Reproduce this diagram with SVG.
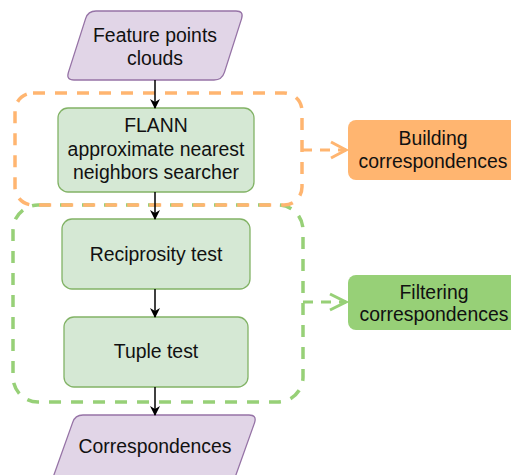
<svg xmlns="http://www.w3.org/2000/svg" width="511" height="475" viewBox="0 0 511 475">
<style>
text{font-family:"Liberation Sans",Arial,sans-serif;font-size:19.4px;fill:#111;text-anchor:middle}
.io{fill:#e1d5e7;stroke:#9673a6;stroke-width:1.3}
.proc{fill:#d5e8d4;stroke:#82b366;stroke-width:1.3}
.arr{stroke:#000;stroke-width:1.5;fill:none}
.og{fill:none;stroke:#FFB570;stroke-width:3.5;stroke-dasharray:12 10}
.gg{fill:none;stroke:#97D077;stroke-width:3.5;stroke-dasharray:12 10}
</style>
<defs>
<marker id="ah" viewBox="0 0 10 10" refX="9" refY="5" markerWidth="10" markerHeight="10" markerUnits="userSpaceOnUse" orient="auto">
<path d="M0,0 L10,5 L0,10 L3,5 Z" fill="#000"/>
</marker>
</defs>
<g id="group-filtering">
<rect x="13" y="205" width="290" height="197" rx="25" class="gg"/>
</g>
<g id="group-building">
<rect x="15" y="93" width="287" height="112" rx="18" class="og"/>
</g>
<g id="feature-points">
<path class="io" d="M85.6,18.6 Q88,11 96,11 L236,11 Q244,11 241.6,18.6 L224.4,72.4 Q222,80 214,80 L74,80 Q66,80 68.4,72.4 Z"/>
<text x="155" y="42">Feature points</text>
<text x="155" y="65">clouds</text>
</g>
<g id="flann">
<rect x="58" y="108" width="196" height="84" rx="10" class="proc"/>
<text x="156" y="132">FLANN</text>
<text x="156" y="156">approximate nearest</text>
<text x="156" y="179">neighbors searcher</text>
</g>
<g id="reciprosity">
<rect x="62" y="219" width="188" height="70" rx="10" class="proc"/>
<text x="156" y="261">Reciprosity test</text>
</g>
<g id="tuple">
<rect x="64" y="317" width="184" height="70" rx="10" class="proc"/>
<text x="156" y="358">Tuple test</text>
</g>
<g id="correspondences">
<path class="io" d="M72.6,422.6 Q75,415 83,415 L249,415 Q257,415 254.6,422.6 L235.4,476.4 Q233,484 225,484 L59,484 Q51,484 53.4,476.4 Z"/>
<text x="155" y="453">Correspondences</text>
</g>
<g id="building">
<rect x="348" y="120" width="170" height="60" rx="8" fill="#FFB570"/>
<text x="433" y="145">Building</text>
<text x="433" y="168">correspondences</text>
</g>
<g id="filtering">
<rect x="348" y="275" width="170" height="55" rx="8" fill="#97D077"/>
<text x="434" y="299">Filtering</text>
<text x="434" y="321">correspondences</text>
</g>
<g id="connectors">
<line class="arr" x1="155" y1="80" x2="155" y2="108" marker-end="url(#ah)"/>
<line class="arr" x1="155" y1="192" x2="155" y2="219" marker-end="url(#ah)"/>
<line class="arr" x1="155" y1="289" x2="155" y2="317" marker-end="url(#ah)"/>
<line class="arr" x1="155" y1="387" x2="155" y2="415" marker-end="url(#ah)"/>
<path d="M302,150 L346,150" fill="none" stroke="#FFB570" stroke-width="3" stroke-dasharray="10 8"/>
<path d="M331,142 L346,150 L331,158" fill="none" stroke="#FFB570" stroke-width="3"/>
<path d="M303,302 L346,302" fill="none" stroke="#97D077" stroke-width="3" stroke-dasharray="10 8"/>
<path d="M330,294 L346,302 L330,310" fill="none" stroke="#97D077" stroke-width="3"/>
</g>
</svg>
